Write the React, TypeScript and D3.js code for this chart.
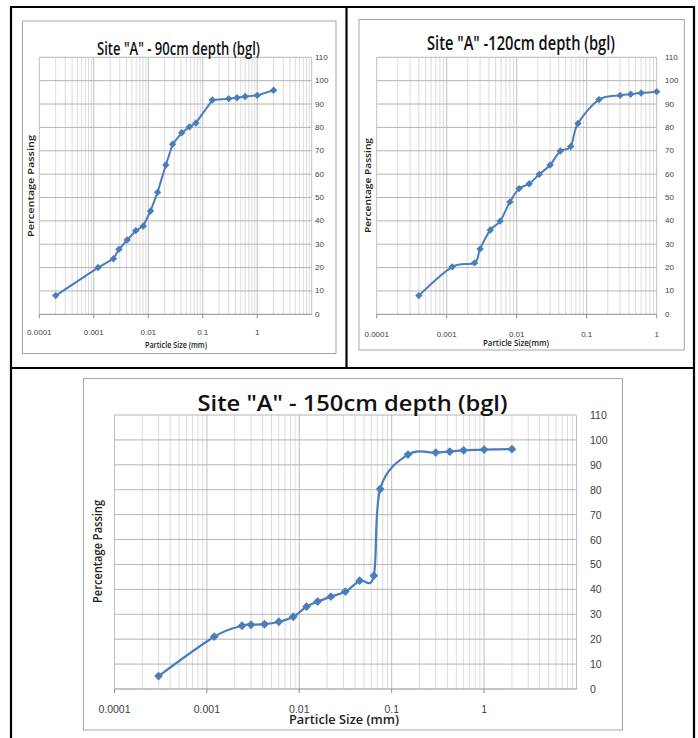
import React from 'react';
import * as d3 from 'd3';

// Site "A" particle size distribution (sieve + hydrometer), three depths
const titles = ['Site "A" - 90cm depth (bgl)', 'Site "A" -120cm depth (bgl)', 'Site "A" - 150cm depth (bgl)'];
const xTitles = ['Particle Size (mm)', 'Particle Size(mm)', 'Particle Size (mm)'];
const yTitle = 'Percentage Passing';

const size90 = [0.0002, 0.0012, 0.0023, 0.0029, 0.0041, 0.0059, 0.0081, 0.011, 0.0148, 0.021, 0.028, 0.041, 0.057, 0.075, 0.15, 0.3, 0.425, 0.6, 1, 2];
const pass90 = [8.0, 20.0, 23.8, 27.8, 31.8, 35.8, 37.8, 44.2, 52.2, 63.9, 72.8, 77.7, 80.2, 81.9, 91.7, 92.3, 92.7, 93.2, 93.7, 95.9];

const size120 = [0.0004, 0.0012, 0.0025, 0.003, 0.0042, 0.0058, 0.008, 0.0108, 0.0151, 0.021, 0.03, 0.042, 0.059, 0.075, 0.15, 0.3, 0.425, 0.6, 1];
const pass120 = [8.0, 20.3, 22.0, 28.0, 36.1, 39.9, 48.1, 53.8, 55.9, 59.9, 63.9, 69.9, 71.8, 81.7, 91.9, 93.7, 94.2, 94.7, 95.3];

const size150 = [0.0003, 0.0012, 0.0024, 0.003, 0.0042, 0.006, 0.0086, 0.012, 0.0158, 0.022, 0.0315, 0.045, 0.064, 0.075, 0.15, 0.3, 0.425, 0.6, 1, 2];
const pass150 = [5.2, 21.0, 25.4, 25.8, 26.0, 27.0, 29.0, 33.1, 35.1, 37.1, 39.1, 43.5, 45.5, 80.3, 94.1, 94.9, 95.3, 95.8, 96.1, 96.3];

const xTickValues = [0.0001, 0.001, 0.01, 0.1, 1];
const xTickLabels = ['0.0001', '0.001', '0.01', '0.1', '1'];
const yTickValues = [0, 10, 20, 30, 40, 50, 60, 70, 80, 90, 100, 110];

const BLUE = '#4A7EBB';
const FONT = 'Liberation Sans, Arial, sans-serif';
const TITLE_FONT = '"Open Sans", "DejaVu Sans", sans-serif';

type Cfg = {
  frame: [number, number, number, number];
  x0: number; x1: number; y0: number; y1: number;
  domain: [number, number];
  title: { cx: number; y: number; len: number; size: number };
  yLab: { x: number; cy: number; len: number; size: number };
  xLab: { cx: number; y: number; len: number; size: number };
  tickSize: number; yTickX: number; xTickY: number;
  smooth: boolean; marker: number; lineW: number;
};

const cfg90: Cfg = {
  frame: [22.5, 21, 313.5, 332.5],
  x0: 39.3, x1: 311.7, y0: 314.3, y1: 57.3,
  domain: [0.0001, 10],
  title: { cx: 178.5, y: 55, len: 163, size: 18 },
  yLab: { x: 30, cy: 186, len: 102, size: 8.5 },
  xLab: { cx: 176, y: 348, len: 62, size: 8.5 },
  tickSize: 8, yTickX: 315, xTickY: 335,
  smooth: false, marker: 3.7, lineW: 2,
};

const cfg120: Cfg = {
  frame: [359, 19.5, 325.3, 330.5],
  x0: 376.7, x1: 656.7, y0: 314.3, y1: 57.3,
  domain: [0.0001, 1],
  title: { cx: 521, y: 50, len: 188, size: 19 },
  yLab: { x: 367, cy: 185.5, len: 95, size: 8.5 },
  xLab: { cx: 516, y: 345.5, len: 66, size: 8.5 },
  tickSize: 8, yTickX: 665, xTickY: 336.5,
  smooth: true, marker: 3.7, lineW: 2,
};

const cfg150: Cfg = {
  frame: [83.5, 378.5, 539, 351.5],
  x0: 114.5, x1: 576.5, y0: 689, y1: 415,
  domain: [0.0001, 10],
  title: { cx: 352.5, y: 411, len: 310, size: 21 },
  yLab: { x: 97, cy: 551.5, len: 103, size: 12 },
  xLab: { cx: 344, y: 724, len: 110, size: 12 },
  tickSize: 10.5, yTickX: 590, xTickY: 713,
  smooth: true, marker: 4.4, lineW: 2.25,
};

function GradingChart({ cfg, sizes, passing, idx }: { cfg: Cfg; sizes: number[]; passing: number[]; idx: number }) {
  const x = d3.scaleLog().domain(cfg.domain).range([cfg.x0, cfg.x1]);
  const y = d3.scaleLinear().domain([0, 110]).range([cfg.y0, cfg.y1]);
  const minor = x.ticks();
  const pts: [number, number][] = sizes.map((s, i) => [s, passing[i]]);
  const line = d3
    .line<[number, number]>()
    .x((d) => x(d[0]))
    .y((d) => y(d[1]))
    .curve(cfg.smooth ? d3.curveCardinal.tension(0) : d3.curveLinear);
  const diamond = d3.symbol(d3.symbolSquare, 2 * cfg.marker * cfg.marker)();
  const [fx, fy, fw, fh] = cfg.frame;
  const isMajor = (v: number) => Math.abs(Math.log10(v) - Math.round(Math.log10(v))) < 1e-6;

  return (
    <g>
      <rect x={fx} y={fy} width={fw} height={fh} fill="#fff" stroke="#A6A6A6" strokeWidth={1} />
      {/* vertical log grid */}
      {minor.map((v, i) => (
        <line key={'v' + i} x1={x(v)} x2={x(v)} y1={cfg.y1} y2={cfg.y0}
          stroke={isMajor(v) ? '#BFBFBF' : '#DCDCDC'} strokeWidth={1} />
      ))}
      {/* horizontal grid */}
      {yTickValues.map((v) => (
        <line key={'h' + v} x1={cfg.x0} x2={cfg.x1} y1={y(v)} y2={y(v)}
          stroke={v === 0 ? '#8C8C8C' : '#B4B4B4'} strokeWidth={1} />
      ))}
      {/* x axis ticks */}
      {xTickValues.map((v) => (
        <line key={'t' + v} x1={x(v)} x2={x(v)} y1={cfg.y0} y2={cfg.y0 + 4} stroke="#8C8C8C" />
      ))}
      {xTickValues.map((v, i) => (
        <text key={'xl' + v} x={x(v)} y={cfg.xTickY} textAnchor="middle" fontFamily={FONT}
          fontSize={cfg.tickSize} fill="#404040">{xTickLabels[i]}</text>
      ))}
      {yTickValues.map((v) => (
        <text key={'yl' + v} x={cfg.yTickX} y={y(v)} dominantBaseline="central" fontFamily={FONT}
          fontSize={cfg.tickSize} fill="#404040">{v}</text>
      ))}
      <path d={line(pts) || ''} fill="none" stroke={BLUE} strokeWidth={cfg.lineW} strokeLinejoin="round" />
      {pts.map((d, i) => (
        <path key={'m' + i} d={diamond || ''} fill={BLUE}
          transform={`translate(${x(d[0])},${y(d[1])}) rotate(45)`} />
      ))}
      <text x={cfg.title.cx} y={cfg.title.y} textAnchor="middle" fontFamily={TITLE_FONT} fontWeight={600}
        fontSize={cfg.title.size} textLength={cfg.title.len} lengthAdjust="spacingAndGlyphs" fill="#111">
        {titles[idx]}
      </text>
      <text x={cfg.xLab.cx} y={cfg.xLab.y} textAnchor="middle" fontFamily={TITLE_FONT} fontWeight={600}
        fontSize={cfg.xLab.size} textLength={cfg.xLab.len} lengthAdjust="spacingAndGlyphs" fill="#222">
        {xTitles[idx]}
      </text>
      <text transform={`translate(${cfg.yLab.x},${cfg.yLab.cy}) rotate(-90)`} textAnchor="middle"
        dominantBaseline="central" fontFamily={TITLE_FONT} fontWeight={600} fontSize={cfg.yLab.size}
        textLength={cfg.yLab.len} lengthAdjust="spacingAndGlyphs" fill="#222">
        {yTitle}
      </text>
    </g>
  );
}

export default function App() {
  return (
    <div style={{ position: 'absolute', left: 0, top: 0 }}>
      <svg width={698} height={738} style={{ display: 'block', background: '#fff' }}>
        {/* table borders */}
        <g stroke="#000" strokeWidth={2.2} fill="none">
          <line x1={11} x2={11} y1={6} y2={738} />
          <line x1={694} x2={694} y1={6} y2={738} />
          <line x1={10} x2={695} y1={7} y2={7} />
          <line x1={10} x2={695} y1={368} y2={368} />
          <line x1={346.5} x2={346.5} y1={7} y2={368} />
        </g>
        <GradingChart cfg={cfg90} sizes={size90} passing={pass90} idx={0} />
        <GradingChart cfg={cfg120} sizes={size120} passing={pass120} idx={1} />
        <GradingChart cfg={cfg150} sizes={size150} passing={pass150} idx={2} />
      </svg>
    </div>
  );
}
